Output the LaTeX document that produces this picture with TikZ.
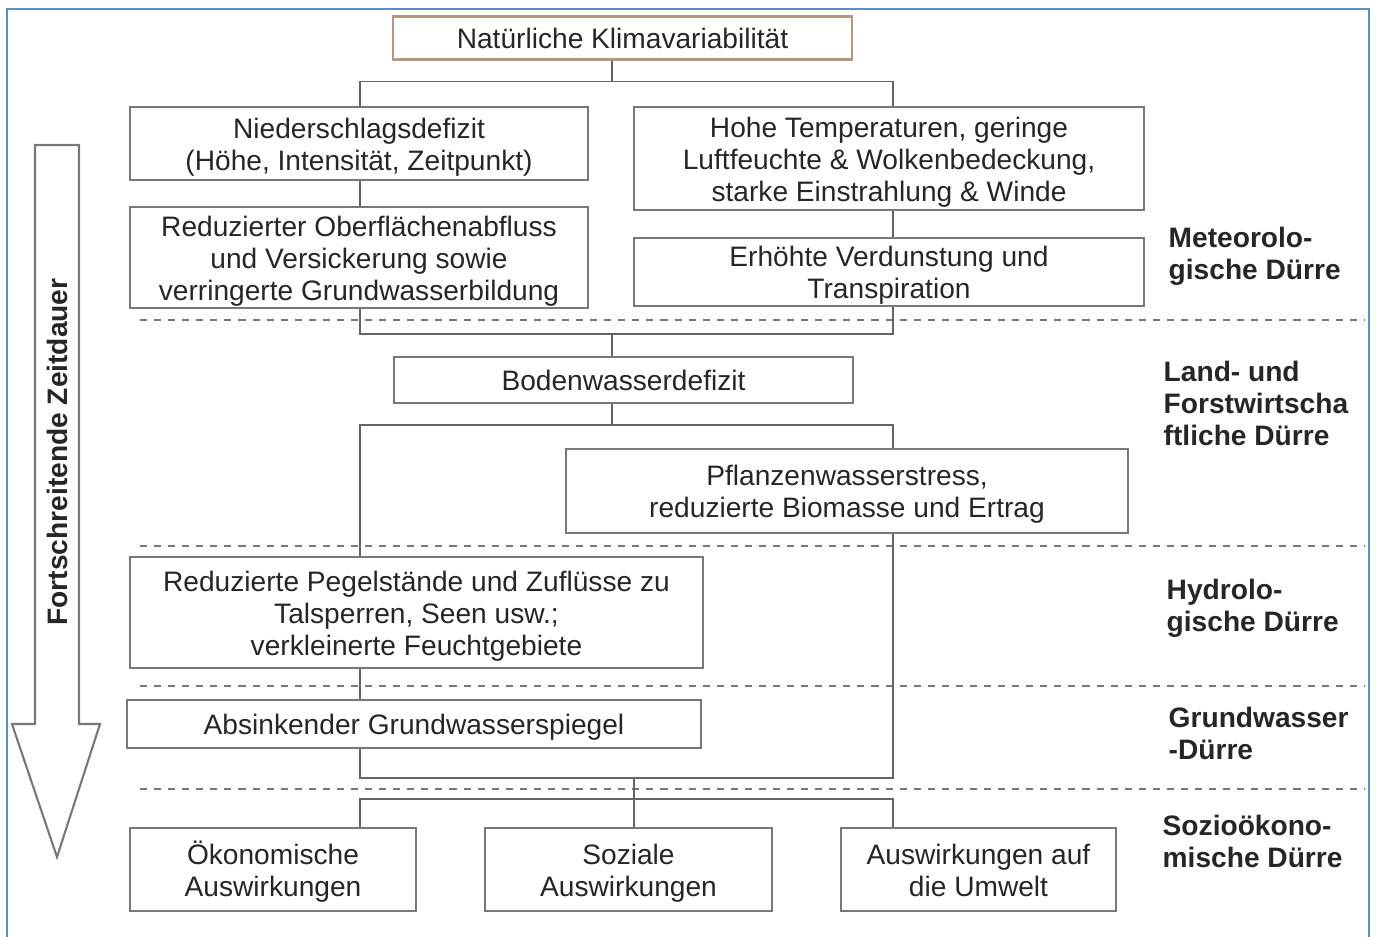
\documentclass[tikz,border=0pt]{standalone}
\usepackage{fontspec}
\setmainfont{Liberation Sans}
\usepackage{tikz}
\usetikzlibrary{calc}

\definecolor{framecol}{RGB}{91,140,200}
\definecolor{boxcol}{RGB}{120,120,120}
\definecolor{topcol}{RGB}{185,150,125}
\definecolor{linecol}{RGB}{100,100,100}
\definecolor{txtcol}{RGB}{38,38,38}

% box text: lines with equal spacing, set a little lower
\newcommand\boxtext[1]{\raisebox{-1.2pt}[\height][\depth]{\begin{tabular}{@{}c@{}}#1\end{tabular}}}

\tikzset{
  box/.style={draw=boxcol, line width=0.6pt, fill=white, inner sep=0pt,
    text=txtcol, font=\fontsize{8pt}{9.1pt}\selectfont},
  conn/.style={draw=linecol, line width=0.45pt},
  sep/.style={draw=boxcol, line width=0.6pt, dash pattern=on 2pt off 2pt},
  lab/.style={anchor=west, align=left, inner sep=0pt, text=txtcol,
    font=\fontsize{8pt}{9.1pt}\selectfont\bfseries},
}

\begin{document}
\begin{tikzpicture}[x=0.01cm, y=-0.01cm]
\useasboundingbox (0,0) rectangle (1377,936);
\draw[framecol, line width=0.6pt] (7,960) -- (7,9) -- (1369,9) -- (1369,960);

% column positions of the connectors
\coordinate (cL) at (360,0);
\coordinate (cM) at (612,0);
\coordinate (cS) at (634,0);
\coordinate (cR) at (893,0);

% separators between the drought types
\draw[sep] (140,320) -- (1364,320);
\draw[sep] (140,546) -- (1364,546);
\draw[sep] (140,686) -- (1364,686);
\draw[sep] (140,789) -- (1364,789);

% time arrow
\draw[boxcol, line width=0.6pt, fill=white] (35,145) -- (79,145) -- (79,724) -- (100,724) -- (57,857) -- (12,724) -- (35,724) -- cycle;
\node[rotate=90, text=txtcol, font=\fontsize{8pt}{9.1pt}\selectfont\bfseries] (zeit) at (57,452) {Fortschreitende Zeitdauer};

% boxes
\node[box, draw=topcol, minimum width=4.59cm, minimum height=0.43cm] (klima) at (622.5,38) {\boxtext{Natürliche Klimavariabilität}};
\node[box, minimum width=4.58cm, minimum height=0.73cm] (nied) at (359,143.5) {\boxtext{Niederschlagsdefizit\\(Höhe, Intensität, Zeitpunkt)}};
\node[box, minimum width=4.58cm, minimum height=1.01cm] (redu) at (359,257.5) {\boxtext{Reduzierter Oberflächenabfluss\\und Versickerung sowie\\verringerte Grundwasserbildung}};
\node[box, minimum width=5.10cm, minimum height=1.03cm] (hohe) at (889,158.5) {\boxtext{Hohe Temperaturen, geringe\\Luftfeuchte \& Wolkenbedeckung,\\starke Einstrahlung \& Winde}};
\node[box, minimum width=5.10cm, minimum height=0.68cm] (verd) at (889,272) {\boxtext{Erhöhte Verdunstung und\\Transpiration}};
\node[box, minimum width=4.59cm, minimum height=0.46cm] (boden) at (623.5,380) {\boxtext{Bodenwasserdefizit}};
\node[box, minimum width=5.62cm, minimum height=0.84cm] (pflanz) at (847,491) {\boxtext{Pflanzenwasserstress,\\reduzierte Biomasse und Ertrag}};
\node[box, minimum width=5.73cm, minimum height=1.11cm] (pegel) at (416.5,612.5) {\boxtext{Reduzierte Pegelstände und Zuflüsse zu\\Talsperren, Seen usw.;\\verkleinerte Feuchtgebiete}};
\node[box, minimum width=5.74cm, minimum height=0.48cm] (absink) at (414,724) {\boxtext{Absinkender Grundwasserspiegel}};
\node[box, minimum width=2.86cm, minimum height=0.83cm] (oeko) at (273,869.5) {\boxtext{Ökonomische\\Auswirkungen}};
\node[box, minimum width=2.87cm, minimum height=0.83cm] (soz) at (628.5,869.5) {\boxtext{Soziale\\Auswirkungen}};
\node[box, minimum width=2.75cm, minimum height=0.83cm] (umw) at (978.5,869.5) {\boxtext{Auswirkungen auf\\die Umwelt}};

% connectors
\draw[conn] (klima.south -| cM) -- ++(0,21) coordinate (t1);
\draw[conn] (nied.north -| cL) |- (t1) -| (hohe.north -| cR);
\draw[conn] (nied.south -| cL) -- (redu.north -| cL);
\draw[conn] (hohe.south -| cR) -- (verd.north -| cR);
\draw[conn] (redu.south -| cL) -- ++(0,25) coordinate (t2) -| (verd.south -| cR);
\draw[conn] (t2 -| cM) -- (boden.north -| cM);
\draw[conn] (boden.south -| cM) -- ++(0,21) coordinate (t3);
\draw[conn] (pegel.north -| cL) |- (t3) -| (pflanz.north -| cR);
\draw[conn] (pegel.south -| cL) -- (absink.north -| cL);
\draw[conn] (absink.south -| cL) -- ++(0,29) coordinate (t4) -| (pflanz.south -| cR);
\draw[conn] (t4 -| cS) -- (soz.north -| cS);
\draw[conn] (oeko.north -| cL) -- ++(0,-28) -| (umw.north -| cR);

% drought types
\node[lab] (meteo) at (1168,256) {Meteorolo-\\gische Dürre};
\node[lab] (land) at (1163,403) {Land- und\\Forstwirtscha\\ftliche Dürre};
\node[lab] (hydro) at (1166,608.5) {Hydrolo-\\gische Dürre};
\node[lab] (grund) at (1168,733) {Grundwasser\\-Dürre};
\node[lab] (sozio) at (1162,841) {Sozioökono-\\mische Dürre};
\end{tikzpicture}
\end{document}
